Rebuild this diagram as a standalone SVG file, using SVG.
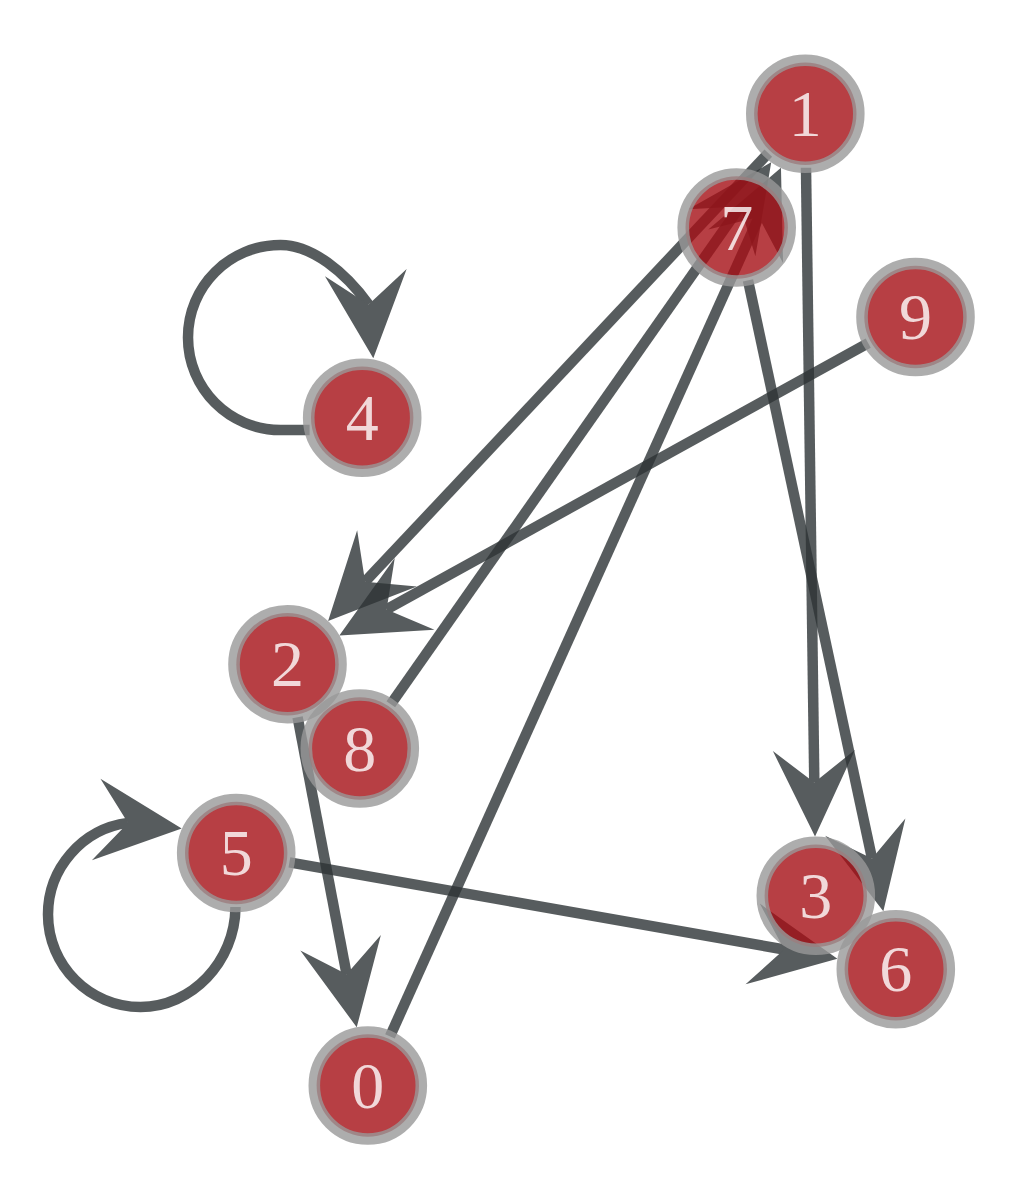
<svg xmlns="http://www.w3.org/2000/svg" width="1021" height="1200" viewBox="0 0 1021 1200">
<style>
.edge{opacity:0.8}
.edge path{fill:none;stroke:#2e3436;stroke-width:10.5;marker-end:url(#arrow)}
.edge path.loop4{marker-end:url(#arrow85)}
.edge path.loop5{marker-end:url(#arrow6)}
.fill{fill:#a50f15;fill-opacity:0.8}
.ring{fill:none;stroke:#999999;stroke-opacity:0.8;stroke-width:11.6}
.label{font-size:66px;fill:#ffffff;fill-opacity:0.8;text-anchor:middle}
</style>
<defs>
<path id="dart" d="M54,0 L-32,-41 L0,0 L-32,41 Z" fill="#2e3436"/>
<marker id="arrow" markerUnits="userSpaceOnUse" markerWidth="100" markerHeight="100" refX="0" refY="0" orient="auto" overflow="visible">
<use href="#dart"/>
</marker>
<marker id="arrow85" markerUnits="userSpaceOnUse" markerWidth="100" markerHeight="100" refX="0" refY="0" orient="85" overflow="visible">
<use href="#dart"/>
</marker>
<marker id="arrow6" markerUnits="userSpaceOnUse" markerWidth="100" markerHeight="100" refX="0" refY="0" orient="6" overflow="visible">
<use href="#dart"/>
</marker>
</defs>
<rect width="1021" height="1200" fill="#ffffff"/>
<g id="edges">
<g class="edge" id="e1-2"><path d="M768.3,153.1 L365.1,581.7"/></g>
<g class="edge" id="e1-3"><path d="M806.0,167.8 L814.3,782.5"/></g>
<g class="edge" id="e9-2"><path d="M868.2,343.1 L386.6,609.4"/></g>
<g class="edge" id="e8-1"><path d="M390.8,704.3 L740.2,206.5"/></g>
<g class="edge" id="e0-1"><path d="M390.0,1036.3 L758.8,217.1"/></g>
<g class="edge" id="e7-6"><path d="M748.0,280.3 L872.0,858.4"/></g>
<g class="edge" id="e5-6"><path d="M289.4,862.4 L784.2,949.5"/></g>
<g class="edge" id="e2-0"><path d="M297.6,717.2 L346.6,974.2"/></g>
<g class="edge" id="e4-4"><path class="loop4" d="M309.6,430 L280.5,430 C229.4,430 188,388.6 188,337.5 C188,286.4 229.4,245 280.5,245 C312,245 345,272 368.6,304.5"/></g>
<g class="edge" id="e5-5"><path class="loop5" d="M235.5,907 C235,962 191.5,1007 140.5,1007 C89.5,1007 48,965.5 48,914.5 C48,868.4 82.3,828.8 128,822.9"/></g>
</g>
<g font-family="'Liberation Serif', 'Times New Roman', serif">
<g id="node0"><circle class="fill" cx="367.8" cy="1085.5" r="51.2"/><circle class="ring" cx="367.8" cy="1085.5" r="53.5"/><text class="label" x="367.8" y="1107.5">0</text></g>
<g id="node1"><circle class="fill" cx="805.3" cy="113.8" r="51.2"/><circle class="ring" cx="805.3" cy="113.8" r="53.5"/><text class="label" x="805.3" y="135.8">1</text></g>
<g id="node2"><circle class="fill" cx="287.5" cy="664.2" r="51.2"/><circle class="ring" cx="287.5" cy="664.2" r="53.5"/><text class="label" x="287.5" y="686.2">2</text></g>
<g id="node3"><circle class="fill" cx="815.8" cy="895.8" r="51.2"/><circle class="ring" cx="815.8" cy="895.8" r="53.5"/><text class="label" x="815.8" y="917.8">3</text></g>
<g id="node4"><circle class="fill" cx="362.2" cy="417.8" r="51.2"/><circle class="ring" cx="362.2" cy="417.8" r="53.5"/><text class="label" x="362.2" y="439.8">4</text></g>
<g id="node5"><circle class="fill" cx="236.2" cy="853.0" r="51.2"/><circle class="ring" cx="236.2" cy="853.0" r="53.5"/><text class="label" x="236.2" y="875.0">5</text></g>
<g id="node6"><circle class="fill" cx="895.8" cy="969.2" r="51.2"/><circle class="ring" cx="895.8" cy="969.2" r="53.5"/><text class="label" x="895.8" y="991.2">6</text></g>
<g id="node7"><circle class="fill" cx="736.7" cy="227.5" r="51.2"/><circle class="ring" cx="736.7" cy="227.5" r="53.5"/><text class="label" x="736.7" y="249.5">7</text></g>
<g id="node8"><circle class="fill" cx="359.8" cy="748.5" r="51.2"/><circle class="ring" cx="359.8" cy="748.5" r="53.5"/><text class="label" x="359.8" y="770.5">8</text></g>
<g id="node9"><circle class="fill" cx="915.5" cy="317.0" r="51.2"/><circle class="ring" cx="915.5" cy="317.0" r="53.5"/><text class="label" x="915.5" y="339.0">9</text></g>
</g>
</svg>
